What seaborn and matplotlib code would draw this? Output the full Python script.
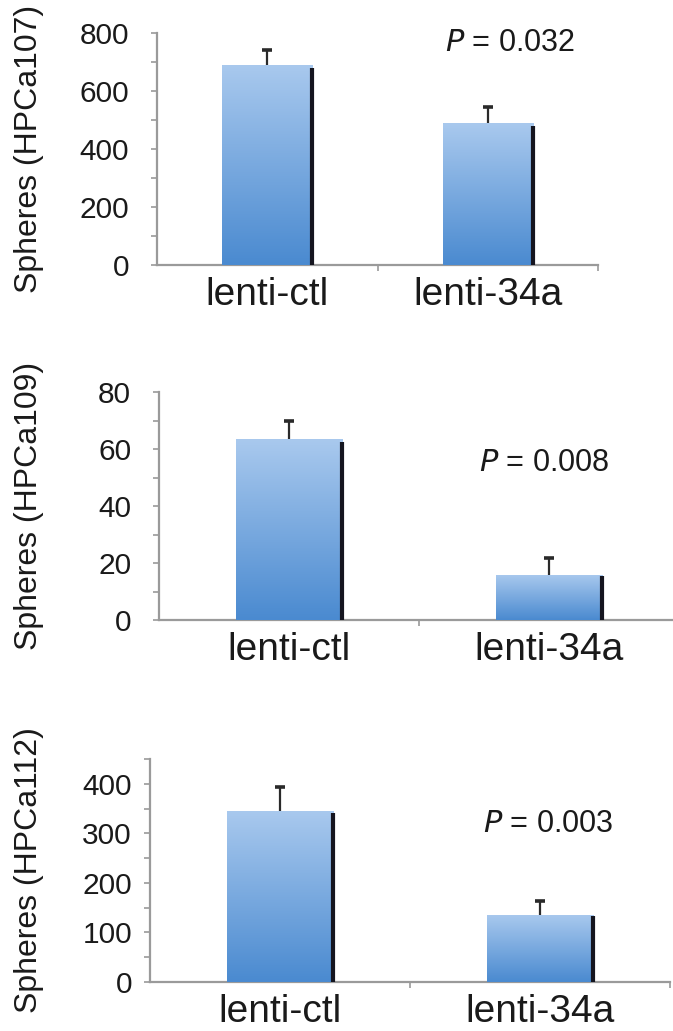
import matplotlib
matplotlib.use("Agg")
import matplotlib.pyplot as plt
import numpy as np
import pandas as pd
import seaborn as sns
from matplotlib.colors import LinearSegmentedColormap
from matplotlib.ticker import MultipleLocator, FixedLocator

# data
groups = ["lenti-ctl", "lenti-34a"]
cell_lines = ["HPCa107", "HPCa109", "HPCa112"]
hpca107 = [690, 488]
hpca107_err = [52, 58]
hpca109 = [63.5, 15.8]
hpca109_err = [6.5, 5.8]
hpca112 = [346, 136]
hpca112_err = [48, 27]
p_values = ["0.032", "0.008", "0.003"]

sns.set_theme(style="white")
plt.rcParams["font.family"] = ["Liberation Sans", "DejaVu Sans"]

bar_cmap = LinearSegmentedColormap.from_list("bar", ["#4a8ad0", "#a9c9ee"])
axis_grey = "#9a9a9a"

fig = plt.figure(figsize=(6.73, 10.31), dpi=100)

W, H = 673, 1031

# axes geometry in pixels: left, top, right, bottom
panels = [
    dict(vals=hpca107, errs=hpca107_err, top=800, major=200, minor=100,
         box=(157, 33, 598, 265), ptxt=(0.80, 0.955), ypad=16),
    dict(vals=hpca109, errs=hpca109_err, top=80, major=20, minor=10,
         box=(159, 392, 679, 620), ptxt=(0.74, 0.69), ypad=16),
    dict(vals=hpca112, errs=hpca112_err, top=450, major=100, minor=50,
         box=(150, 759, 670, 982), ptxt=(0.765, 0.71), ypad=9),
]

for i, p in enumerate(panels):
    l, t, r, b = p["box"]
    ax = fig.add_axes([l / W, 1 - b / H, (r - l) / W, (b - t) / H])
    df = pd.DataFrame({"group": groups, "spheres": p["vals"]})
    sns.barplot(data=df, x="group", y="spheres", width=0.41, color="#79a9e0",
                linewidth=0, ax=ax, zorder=2)

    grad = np.linspace(0, 1, 256).reshape(-1, 1)
    xs, tops = [], []
    for patch in ax.patches:
        x0, y0 = patch.get_x(), patch.get_y()
        w, h = patch.get_width(), patch.get_height()
        im = ax.imshow(grad, cmap=bar_cmap, origin="lower", aspect="auto",
                       extent=[x0, x0 + w, y0, y0 + h], zorder=3)
        im.set_clip_path(patch)
        # dark shadow line on the right edge
        ax.plot([x0 + w, x0 + w], [y0, y0 + h * 0.985], color="#15151f",
                lw=3, solid_capstyle="butt", zorder=4)
        xs.append(x0 + w / 2)
        tops.append(y0 + h)

    # upper error bars only, with a small cap at the top
    ends = np.array(tops) + np.array(p["errs"])
    ax.vlines(xs, tops, ends, color="#2a2a2a", lw=1.6, zorder=5)
    ax.plot(xs, ends, ls="none", marker="_", ms=7, mew=2.6, color="#2a2a2a",
            zorder=5)

    ax.set_xlim(-0.5, 1.5)
    ax.set_ylim(0, p["top"])
    ax.yaxis.set_major_locator(MultipleLocator(p["major"]))
    ax.yaxis.set_minor_locator(MultipleLocator(p["minor"]))
    ax.xaxis.set_minor_locator(FixedLocator([0.5, 1.5]))

    for side in ["top", "right"]:
        ax.spines[side].set_visible(False)
    for side in ["left", "bottom"]:
        ax.spines[side].set_color(axis_grey)
        ax.spines[side].set_linewidth(1.6)

    ax.tick_params(axis="y", which="both", direction="out", left=True,
                   length=4, width=1.2, color=axis_grey)
    ax.tick_params(axis="y", which="major", labelsize=21.5, pad=p["ypad"],
                   labelcolor="#1a1a1a")
    ax.tick_params(axis="x", which="major", length=0, pad=8.5,
                   labelsize=28, labelcolor="#1a1a1a")
    ax.tick_params(axis="x", which="minor", bottom=True, direction="out",
                   length=4, width=1.2, color=axis_grey)

    ax.set_xlabel("")
    ax.set_ylabel(f"Spheres ({cell_lines[i]})", fontsize=23, color="#1a1a1a")
    ax.yaxis.set_label_coords((44 - l) / (r - l), 0.5)

    px, py = p["ptxt"]
    ax.text(px, py, f"$\\it{{P}}$ = {p_values[i]}", transform=ax.transAxes,
            ha="center", va="center", fontsize=22, color="#1a1a1a")

fig.savefig("out.png", dpi=100)
